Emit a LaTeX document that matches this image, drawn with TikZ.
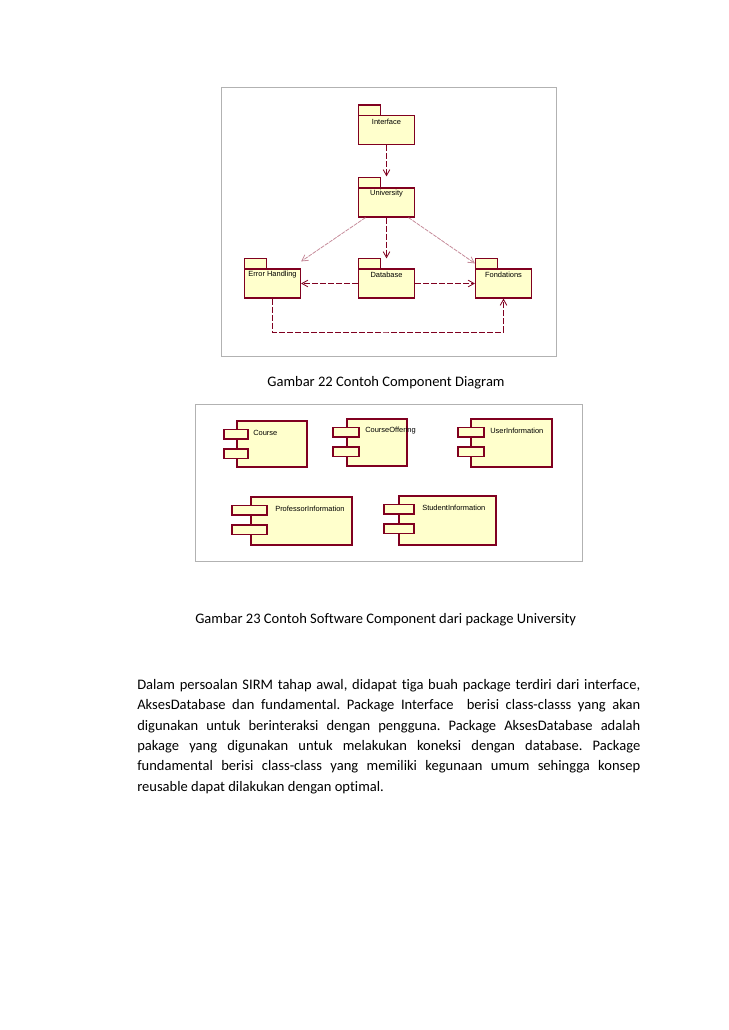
\documentclass[tikz,border=0pt]{standalone}
\usepackage{fontspec}
\setmainfont{Carlito}[Ligatures=NoCommon]
\newfontfamily\umlfont{Liberation Sans}
\usetikzlibrary{arrows.meta,calc}

\definecolor{umlred}{RGB}{128,0,32}
\definecolor{umlfill}{RGB}{255,255,204}
\newcommand\bodysize{\fontsize{10.9}{15.3}\selectfont}
\newcommand\umlsize{\fontsize{5.6}{6.5}\selectfont}
\frenchspacing

\begin{document}
\begin{tikzpicture}[x=0.75pt, y=-0.75pt,
  frame/.style={draw=black!30, line width=0.75pt},
  pkg/.style={draw=umlred, fill=umlfill, line width=0.9pt,
    minimum width=42pt, minimum height=21.75pt, inner sep=0pt},
  pkgtab/.style={draw=umlred, fill=umlfill, line width=0.9pt},
  comp/.style={draw=umlred, fill=umlfill, line width=0.9pt},
  umltext/.style={font=\umlfont\umlsize, inner sep=0pt},
  dep/.style={draw=umlred, line width=0.6pt, dash pattern=on 4.5pt off 1.5pt,
    -{Straight Barb[length=4.5pt,width=5pt]}},
  depfaint/.style={dep, draw=umlred!45, dash pattern=on 3pt off 0.75pt},
  caption/.style={font=\bodysize, inner sep=0pt},
  para/.style={font=\bodysize, inner sep=0pt, text width=377.25pt, align=justify}
]

\useasboundingbox (0,0) rectangle (728,1030);

% Package diagram frame
\draw[frame] (221,88) rectangle (556,356);

% Packages
\foreach \name/\cx/\cy/\txt in {interface/386.5/130/Interface,
    university/386.5/202.5/University, errh/272.5/283.5/Error Handling,
    database/386.5/283.5/Database, fondations/503.5/283.5/Fondations}
{
  \draw[pkgtab] (\cx-28,\cy-25) rectangle (\cx-6,\cy-14.5);
  \node[pkg] (\name) at (\cx,\cy) {};
  \node[umltext] at ($(\name.north)+(0,6.5)$) {\txt};
}

% Dependencies
\draw[dep] (interface.south) -- ($(university.north)+(0,-11)$);
\draw[depfaint] ($(university.south)+(-21,0)$) -- ($(errh.north east)+(0,-7)$);
\draw[dep] (university.south) -- ($(database.north)+(0,-10)$);
\draw[depfaint] ($(university.south)+(22,0)$) -- ($(fondations.north west)+(0,-5)$);
\draw[dep] (database.west) -- (errh.east);
\draw[dep] (database.east) -- (fondations.west);
\coordinate (loopdown) at (388,332);
\draw[dep] (errh.south) |- (loopdown) -| (fondations.south);

% Caption 22
\node[caption, anchor=base] (cap22) at (386,386) {Gambar 22 Contoh Component Diagram};

% Component diagram frame
\draw[frame] (195,404) rectangle (582,561);

% Components
\foreach \name/\bx/\by/\w/\h/\pl/\pw/\lx/\txt in {
    course/237/421/70/46/13/24/253/Course,
    offering/347/419/60/47/14/26/365/CourseOffering,
    userinfo/471/419/81/48/13/26/490/UserInformation,
    profinfo/251/497/101/48/19/35/275/ProfessorInformation,
    studinfo/399/496/97/49/15/30/422/StudentInformation}
{
  \draw[comp] (\bx,\by) rectangle ++(\w,\h);
  \draw[comp] (\bx-\pl,\by+8.5) rectangle ++(\pw,9.5);
  \draw[comp] (\bx-\pl,\by+28) rectangle ++(\pw,9.5);
  \node[umltext, anchor=west] (\name) at (\lx,\by+12) {\txt};
}

% Caption 23
\node[caption, anchor=base west] (cap23) at (195,623)
  {Gambar 23 Contoh Software Component dari package University};

% Paragraph
\node[para, anchor=north west] (para) at (137,679) {Dalam persoalan SIRM tahap
  awal, didapat tiga buah package terdiri dari interface,\linebreak
  AksesDatabase dan fundamental. Package Interface~ berisi class-classs yang
  akan\linebreak digunakan untuk berinteraksi dengan pengguna. Package
  AksesDatabase adalah\linebreak pakage yang digunakan untuk melakukan koneksi
  dengan database. Package\linebreak fundamental berisi class-class yang
  memiliki kegunaan umum sehingga konsep\linebreak reusable dapat dilakukan
  dengan optimal.};

\end{tikzpicture}
\end{document}
